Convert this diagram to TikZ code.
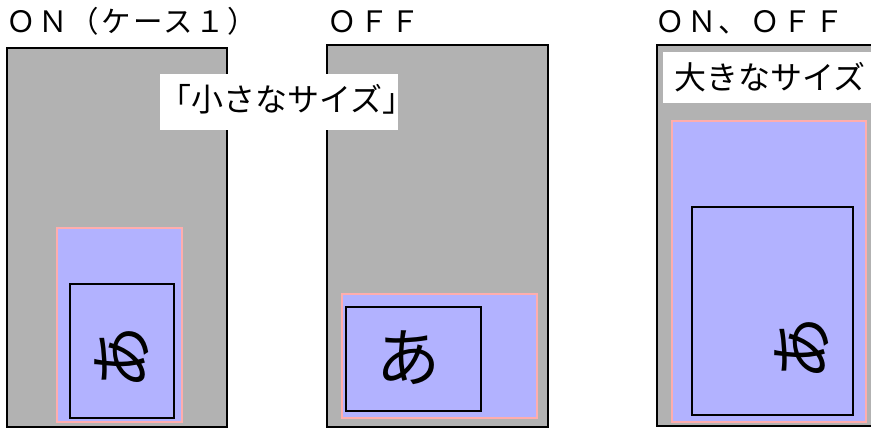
\documentclass[tikz,border=0pt]{standalone}
\usepackage{fontspec}
\setmainfont{Noto Sans CJK JP}
\usetikzlibrary{arrows}
\definecolor{panelgray}{rgb}{0.7,0.7,0.7}
\definecolor{areablue}{rgb}{0.7,0.7,1.}
\definecolor{edgepink}{rgb}{1.,0.68,0.68}

\begin{document}
\begin{tikzpicture}[line cap=round,line join=miter,x=1pt,y=-1pt]
\useasboundingbox (0,0) rectangle (871,428);
\clip (0,0) rectangle (871,428);
\tikzset{captiontext/.style={font=\fontsize{29.5}{31}\selectfont\addfontfeature{LetterSpace=8},inner sep=0pt},
  labeltext/.style={font=\fontsize{32}{34}\selectfont,inner sep=0pt},
  glyphtext/.style={font=\fontsize{64}{66}\selectfont,inner sep=0pt}}
% top captions
\node[captiontext,anchor=base west] (capon) at (6,33) {ＯＮ（ケース１）};
\node[captiontext,anchor=base west] (capoff) at (327,33) {ＯＦＦ};
\node[captiontext,anchor=base west] (caponoff) at (655,33) {ＯＮ、ＯＦＦ};
% left panel
\draw [line width=2.pt,fill=panelgray] (7,48) rectangle (227,427);
\draw [line width=2.pt,draw=edgepink,fill=areablue] (57,228) rectangle (182,422);
\draw [line width=2.pt] (70,284) rectangle (174,418);
\node[glyphtext,rotate=90] (charon) at (122,357) {あ};
% middle panel
\draw [line width=2.pt,fill=panelgray] (327,45) rectangle (548,427);
\draw [line width=2.pt,draw=edgepink,fill=areablue] (342,294) rectangle (537,418);
\draw [line width=2.pt] (346,307) rectangle (481,411);
\node[glyphtext] (charoff) at (408,358) {あ};
% small size label
\fill [white] (160,74) rectangle (398,130);
\node[labeltext,anchor=base west] (smalllabel) at (159,112) {「小さなサイズ」};
% right panel
\draw [line width=2.pt,fill=panelgray] (657,45) rectangle (890,426);
\fill [white] (663,52) rectangle (890,103);
\node[labeltext,anchor=base west] (biglabel) at (674,90) {大きなサイズ};
\draw [line width=2.pt,draw=edgepink,fill=areablue] (672,121) rectangle (866,422);
\draw [line width=2.pt] (692,207) rectangle (853,415);
\node[glyphtext,rotate=90] (charbig) at (802,348) {あ};
\end{tikzpicture}
\end{document}
